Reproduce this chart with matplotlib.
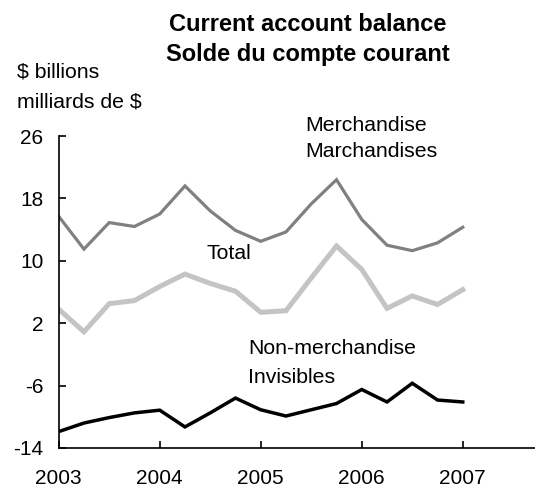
import matplotlib
matplotlib.use("Agg")
import matplotlib.pyplot as plt
import numpy as np

plt.rcParams['font.family'] = ['Liberation Sans', 'DejaVu Sans']
plt.rcParams['axes.unicode_minus'] = False

# quarterly data, 2003Q1 .. 2007Q1 ($ billions)
years = [2003, 2004, 2005, 2006, 2007]
merchandise = [15.7, 11.5, 14.9, 14.4, 16.0, 19.6, 16.4, 13.9, 12.5,
               13.7, 17.3, 20.4, 15.3, 12.0, 11.3, 12.3, 14.3]
total = [3.8, 0.9, 4.5, 4.9, 6.7, 8.3, 7.1, 6.1, 3.4,
         3.6, 7.8, 11.9, 8.9, 3.9, 5.5, 4.4, 6.3]
non_merch = [-11.9, -10.8, -10.1, -9.5, -9.15, -11.3, -9.5, -7.6, -9.1,
             -9.9, -9.1, -8.3, -6.5, -8.1, -5.7, -7.85, -8.1]
yticks = [-14, -6, 2, 10, 18, 26]

q = np.arange(len(merchandise))

fig = plt.figure(figsize=(5.35, 4.87), dpi=100)
ax = fig.add_axes([0.1097, 0.0801, 0.8903, 0.6406])

ax.plot(q, merchandise, color='#808080', lw=2.3, solid_joinstyle='miter')
ax.plot(q, total, color='#c4c4c4', lw=3.6, solid_joinstyle='miter')
ax.plot(q, non_merch, color='black', lw=2.5, solid_joinstyle='miter')

ax.set_xlim(0, 18.86)
ax.set_ylim(-14, 26)
ax.set_yticks(yticks)
ax.set_xticks([4 * i for i in range(len(years))])
ax.set_xticklabels([str(y) for y in years])

ax.spines['top'].set_visible(False)
ax.spines['right'].set_visible(False)
ax.spines['left'].set_linewidth(1.2)
ax.spines['bottom'].set_linewidth(1.2)
ax.tick_params(axis='x', direction='in', length=5, width=1.2, pad=15, labelsize=15)
ax.tick_params(axis='y', direction='in', length=5, width=1.2, pad=11, labelsize=15)

# series labels
fs = 15.3
ax.text(9.75, 27.4, 'Merchandise', fontsize=fs, va='center', ha='left', clip_on=False)
ax.text(9.75, 24.0, 'Marchandises', fontsize=fs, va='center', ha='left', clip_on=False)
ax.text(5.86, 11.0, 'Total', fontsize=fs, va='center', ha='left')
ax.text(7.5, -1.28, 'Non-merchandise', fontsize=fs, va='center', ha='left')
ax.text(7.5, -5.0, 'Invisibles', fontsize=fs, va='center', ha='left')

fig.text(0.576, 0.9487, 'Current account balance', fontsize=17, fontweight='bold',
         ha='center', va='center')
fig.text(0.576, 0.8871, 'Solde du compte courant', fontsize=17, fontweight='bold',
         ha='center', va='center')
fig.text(0.032, 0.852, '$ billions', fontsize=fs, ha='left', va='center')
fig.text(0.032, 0.791, 'milliards de $', fontsize=fs, ha='left', va='center')

fig.savefig('out.png', dpi=100)
